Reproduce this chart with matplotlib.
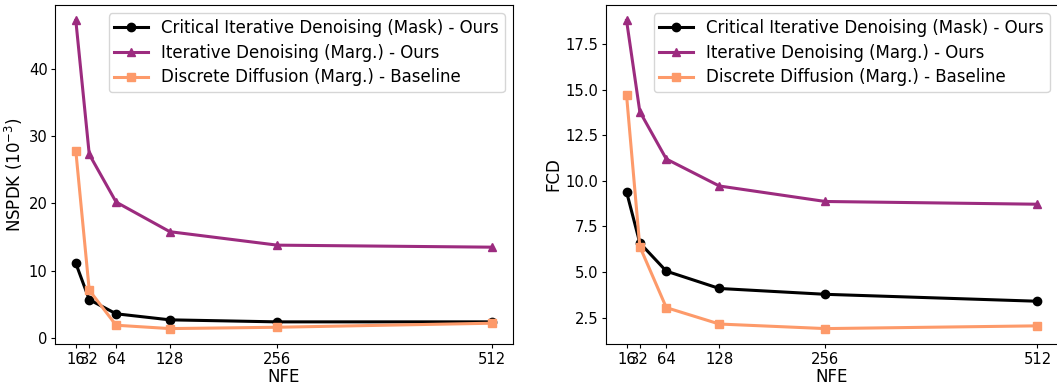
import matplotlib
matplotlib.use("Agg")
import matplotlib.pyplot as plt

nfe = [16, 32, 64, 128, 256, 512]
labels = ["Critical Iterative Denoising (Mask) - Ours",
          "Iterative Denoising (Marg.) - Ours",
          "Discrete Diffusion (Marg.) - Baseline"]

nspdk_mask = [11.1, 5.7, 3.6, 2.7, 2.4, 2.4]
nspdk_marg = [47.2, 27.3, 20.2, 15.8, 13.8, 13.5]
nspdk_base = [27.8, 7.1, 1.9, 1.4, 1.6, 2.2]

fcd_mask = [9.4, 6.6, 5.05, 4.1, 3.78, 3.4]
fcd_marg = [18.8, 13.8, 11.2, 9.72, 8.87, 8.72]
fcd_base = [14.7, 6.4, 3.05, 2.15, 1.9, 2.05]

colors = ["#000000", "#9c2b7f", "#fd9a6a"]
markers = ["o", "^", "s"]

plt.rcParams['font.size'] = 12
plt.rcParams['xtick.labelsize'] = 10.6
plt.rcParams['ytick.labelsize'] = 10.6
plt.rcParams['xtick.major.size'] = 2.8
plt.rcParams['ytick.major.size'] = 2.8
plt.rcParams['xtick.major.pad'] = 2.6
plt.rcParams['ytick.major.pad'] = 2.6

fig = plt.figure(figsize=(10.57, 3.85), dpi=100)
ax1 = fig.add_axes([55/1057, 1-344/385, (513-55)/1057, (344-5)/385])
ax2 = fig.add_axes([606/1057, 1-344/385, (1058-606)/1057, (344-5)/385])

for ax, series, ylab in [(ax1, [nspdk_mask, nspdk_marg, nspdk_base], r"NSPDK ($10^{-3}$)"),
                         (ax2, [fcd_mask, fcd_marg, fcd_base], "FCD")]:
    for s, c, m, l in zip(series, colors, markers, labels):
        ax.plot(nfe, s, color=c, marker=m, lw=2.2, markersize=6, label=l)
    ax.set_xticks(nfe)
    ax.set_xticklabels([str(v) for v in nfe])
    ax.set_xlabel("NFE", labelpad=1)
    ax.set_ylabel(ylab, labelpad=2.5)
    ax.legend(loc="upper right", handlelength=2.0, borderpad=0.35, labelspacing=0.4)

ax1.set_yticks([0, 10, 20, 30, 40])
ax2.set_yticks([2.5, 5.0, 7.5, 10.0, 12.5, 15.0, 17.5])

fig.savefig("out.png", dpi=100)
